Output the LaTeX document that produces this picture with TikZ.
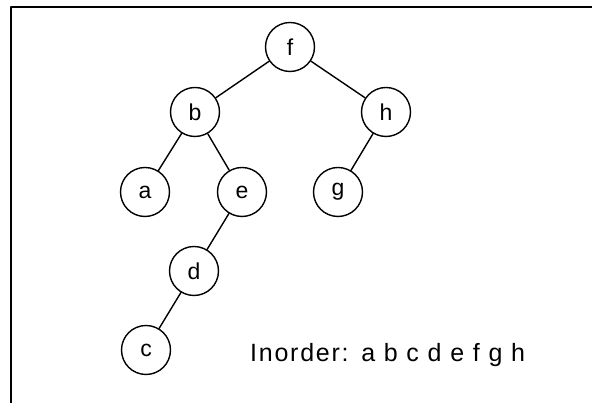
\documentclass[tikz,border=0pt]{standalone}
\usepackage{fontspec}
\setmainfont{Liberation Sans}
\newfontfamily\spacedfont[LetterSpace=7]{Liberation Sans}
\begin{document}
\begin{tikzpicture}[x=1pt,y=1pt,line join=round,line cap=round,
    vertex/.style={circle,draw,line width=1.4pt,minimum size=49pt,inner sep=0pt,font=\fontsize{23}{23}\selectfont},
    branch/.style={line width=1.4pt}]
    \useasboundingbox (0,0) rectangle (592,403);
    \draw [line width=1.2pt] (11,0)--(11,396)--(592,396);
    \node[vertex] (f) at (290,356) {f};
    \node[vertex] (b) at (195,291) {b};
    \node[vertex] (h) at (386,291) {h};
    \node[vertex] (a) at (145,211) {a};
    \node[vertex] (e) at (242,211) {e};
    \node[vertex] (g) at (338,211) {g};
    \node[vertex] (d) at (194,132) {d};
    \node[vertex] (c) at (146,53) {c};
    \foreach \u/\v in {f/b,f/h,b/a,b/e,h/g,e/d,d/c}
        \draw [branch] (\u)--(\v);
    \node[anchor=base west,inner sep=0pt,font=\spacedfont\fontsize{25}{25}\selectfont] (inorder) at (250,41) {Inorder:\hspace{4pt}\ a b c d e f g h};
\end{tikzpicture}
\end{document}
